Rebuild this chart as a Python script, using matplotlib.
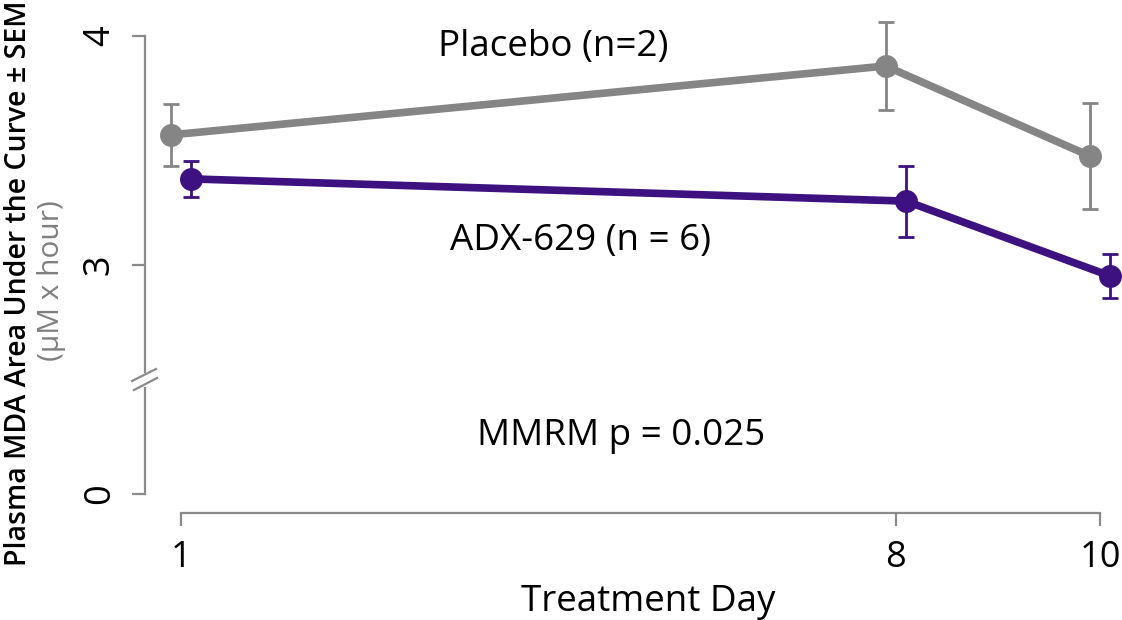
import matplotlib
matplotlib.use("Agg")
import matplotlib.pyplot as plt
import numpy as np

# ---- data ----
days = [1, 8, 10]
placebo_mean = [3.568, 3.869, 3.476]
placebo_sem = [0.137, 0.19, 0.23]
adx_mean = [3.376, 3.279, 2.952]
adx_sem = [0.08, 0.155, 0.094]
ytick_pos = [2, 3, 4]          # 0 is drawn at position 2 (broken axis)
ytick_labels = ["0", "3", "4"]
xtick_labels = ["1", "8", "10"]

plt.rcParams['font.family'] = ['Open Sans', 'DejaVu Sans']

W, H = 1122, 620
fig = plt.figure(figsize=(W / 100, H / 100), dpi=100)

def fx(px):
    return px / W

def fy(py):
    return 1 - py / H

ax_l, ax_r, ax_b, ax_t = 145, 1118, 513, 8
ax = fig.add_axes([fx(ax_l), fy(ax_b), (ax_r - ax_l) / W, (ax_b - ax_t) / H])

xpx = (1100 - 181) / 9.0
ax.set_xlim(1 - (181 - ax_l) / xpx, 10 + (ax_r - 1100) / xpx)
ypx = (494 - 36) / 2.0
ax.set_ylim(2 - (ax_b - 494) / ypx, 4 + (36 - ax_t) / ypx)

grey = '#858585'
purple = '#3D1180'
axis_grey = '#8a8a8a'

dodge = 0.1
xp = np.array(days) - dodge
xa = np.array(days) + dodge

ax.errorbar(xp, placebo_mean, yerr=placebo_sem, fmt='none', ecolor=grey,
            elinewidth=2, capsize=6, capthick=2, zorder=2)
ax.plot(xp, placebo_mean, '-o', color=grey, lw=5.5, ms=15.5, zorder=3,
        solid_capstyle='round', clip_on=False)
ax.errorbar(xa, adx_mean, yerr=adx_sem, fmt='none', ecolor=purple,
            elinewidth=2, capsize=6, capthick=2, zorder=2)
ax.plot(xa, adx_mean, '-o', color=purple, lw=5.5, ms=15.5, zorder=3,
        solid_capstyle='round', clip_on=False)

for s in ['top', 'right', 'left']:
    ax.spines[s].set_visible(False)
ax.spines['bottom'].set_bounds(1, 10)
ax.spines['bottom'].set_color(axis_grey)
ax.spines['bottom'].set_linewidth(1.6)

ax.set_xticks(days)
ax.set_xticklabels(xtick_labels)
ax.set_yticks(ytick_pos)
ax.set_yticklabels(ytick_labels, rotation=90, va='center')
ax.tick_params(axis='both', length=9.5, width=1.6, color=axis_grey,
               labelsize=26, direction='out')
ax.tick_params(axis='x', pad=10)
ax.tick_params(axis='y', pad=10)

# broken left spine
ytr = ax.get_yaxis_transform()
lo_end = 2 + (494 - 388) / ypx
hi_start = 2 + (494 - 372) / ypx
ax.plot([0, 0], [2, lo_end], color=axis_grey, lw=1.6, transform=ytr, clip_on=False)
ax.plot([0, 0], [hi_start, 4], color=axis_grey, lw=1.6, transform=ytr, clip_on=False)
awidth = ax_r - ax_l
for (x0, y0, x1, y1) in [(-13, 381, 11, 369), (-11, 390, 12, 378)]:
    ax.plot([x0 / awidth, x1 / awidth],
            [2 + (494 - y0) / ypx, 2 + (494 - y1) / ypx],
            color=axis_grey, lw=1.6, transform=ytr, clip_on=False)

# texts
fs = 26.5
fig.text(fx(553), fy(56), "Placebo (n=2)", ha='center', va='baseline', fontsize=fs)
fig.text(fx(580), fy(250), "ADX-629 (n = 6)", ha='center', va='baseline', fontsize=fs)
fig.text(fx(621), fy(445), "MMRM p = 0.025", ha='center', va='baseline', fontsize=fs)
fig.text(fx(648), fy(611), "Treatment Day", ha='center', va='baseline', fontsize=fs)

fig.text(fx(26), fy(283), "Plasma MDA Area Under the Curve ± SEM", rotation=90,
         rotation_mode='anchor', ha='center', va='baseline', fontsize=20.5,
         fontweight='semibold')
fig.text(fx(59), fy(281), "(μM x hour)", rotation=90, rotation_mode='anchor',
         ha='center', va='baseline', fontsize=21.5, color='#808080')

fig.savefig("out.png", dpi=100)
